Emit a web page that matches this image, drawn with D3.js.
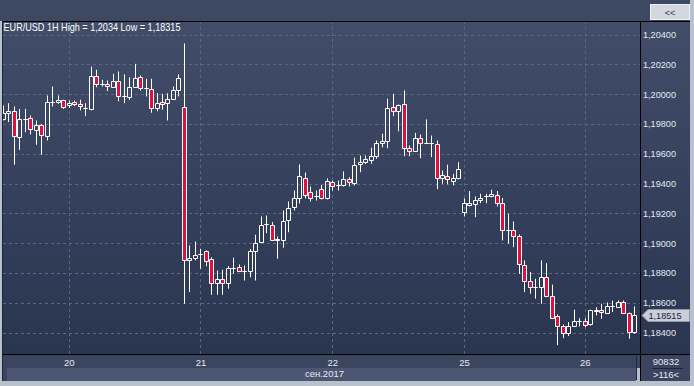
<!DOCTYPE html>
<html>
<head>
<meta charset="utf-8">
<script src="https://cdn.jsdelivr.net/npm/d3@7"></script>
<style>
  body { margin: 0; background: #b9c1cd; }
  svg { display: block; }
  text { font-family: "Liberation Sans", Arial, sans-serif; }
</style>
</head>
<body>
<div id="chart"></div>
<script>
// EUR/USD hourly candles, 19.09 12:00 .. 26.09
const opens = [1.19834,1.19875,1.19885,1.19711,1.19834,1.19841,1.19761,1.19794,1.19718,1.19948,
  1.19948,1.19962,1.19924,1.19946,1.19935,1.19908,1.19901,1.20123,1.20065,1.20069,
  1.20046,1.20087,1.19984,1.19979,1.20046,1.20113,1.20042,1.20036,1.19908,1.19946,
  1.19942,1.19969,1.20029,1.19912,1.18888,1.18902,1.18926,1.18944,1.18890,1.18734,
  1.18761,1.18734,1.18832,1.18841,1.18816,1.18810,1.18949,1.19006,1.19125,1.19123,
  1.19018,1.19018,1.19152,1.19239,1.19306,1.19434,1.19340,1.19313,1.19360,1.19306,
  1.19409,1.19391,1.19391,1.19429,1.19402,1.19532,1.19546,1.19559,1.19583,1.19673,
  1.19687,1.19912,1.19885,1.19935,1.19637,1.19620,1.19707,1.19673,1.19673,1.19667,
  1.19438,1.19452,1.19418,1.19436,1.19212,1.19253,1.19264,1.19291,1.19315,1.19318,
  1.19326,1.19271,1.19090,1.19090,1.19045,1.18855,1.18747,1.18704,1.18704,1.18774,
  1.18647,1.18508,1.18441,1.18398,1.18443,1.18476,1.18476,1.18456,1.18543,1.18553,
  1.18530,1.18580,1.18570,1.18606,1.18533,1.18402];
const highs = [1.19924,1.19939,1.19917,1.19901,1.19901,1.19857,1.19823,1.19800,1.19991,1.20051,
  1.19991,1.19962,1.19957,1.19957,1.19962,1.19939,1.20185,1.20163,1.20096,1.20091,
  1.20136,1.20152,1.20132,1.20113,1.20203,1.20125,1.20103,1.20103,1.20006,1.20002,
  1.20006,1.20051,1.20132,1.20340,1.18984,1.19011,1.18962,1.18951,1.18904,1.18816,
  1.18821,1.18845,1.18902,1.18857,1.18850,1.18960,1.19056,1.19179,1.19185,1.19141,
  1.19045,1.19219,1.19279,1.19353,1.19528,1.19474,1.19380,1.19353,1.19390,1.19434,
  1.19420,1.19420,1.19481,1.19442,1.19573,1.19588,1.19588,1.19640,1.19689,1.19734,
  1.19969,1.20002,1.19930,1.20024,1.19655,1.19740,1.19729,1.19830,1.19722,1.19689,
  1.19487,1.19526,1.19465,1.19543,1.19300,1.19349,1.19313,1.19331,1.19331,1.19358,
  1.19349,1.19304,1.19197,1.19145,1.19058,1.18884,1.18805,1.18761,1.18884,1.18865,
  1.18721,1.18521,1.18454,1.18470,1.18553,1.18496,1.18496,1.18553,1.18570,1.18593,
  1.18602,1.18615,1.18615,1.18615,1.18535,1.18575];
const lows = [1.19823,1.19812,1.19526,1.19626,1.19744,1.19729,1.19660,1.19593,1.19689,1.19917,
  1.19935,1.19901,1.19908,1.19919,1.19890,1.19852,1.19890,1.20046,1.20051,1.20020,
  1.20046,1.19952,1.19939,1.19962,1.20046,1.20024,1.19984,1.19875,1.19885,1.19895,
  1.19823,1.19962,1.19985,1.18593,1.18671,1.18884,1.18828,1.18845,1.18653,1.18653,
  1.18653,1.18694,1.18794,1.18812,1.18749,1.18771,1.18749,1.19000,1.19067,1.19018,
  1.18895,1.18969,1.19073,1.19219,1.19266,1.19300,1.19279,1.19286,1.19293,1.19293,
  1.19353,1.19353,1.19380,1.19380,1.19387,1.19476,1.19532,1.19532,1.19566,1.19642,
  1.19637,1.19852,1.19751,1.19583,1.19583,1.19617,1.19570,1.19671,1.19577,1.19362,
  1.19398,1.19394,1.19387,1.19427,1.19179,1.19246,1.19174,1.19268,1.19268,1.19308,
  1.19246,1.19018,1.18996,1.18973,1.18794,1.18671,1.18660,1.18627,1.18593,1.18637,
  1.18490,1.18315,1.18362,1.18376,1.18441,1.18441,1.18436,1.18446,1.18515,1.18492,
  1.18526,1.18537,1.18570,1.18530,1.18358,1.18392];
const closes = [1.19875,1.19885,1.19718,1.19834,1.19834,1.19767,1.19794,1.19727,1.19948,1.19948,
  1.19962,1.19912,1.19942,1.19935,1.19917,1.19908,1.20123,1.20065,1.20065,1.20056,
  1.20087,1.19984,1.19984,1.20046,1.20109,1.20042,1.20042,1.19908,1.19939,1.19935,
  1.19969,1.20029,1.20109,1.18888,1.18902,1.18922,1.18926,1.18882,1.18734,1.18761,
  1.18734,1.18832,1.18832,1.18814,1.18816,1.18949,1.19004,1.19123,1.19125,1.19022,
  1.19026,1.19150,1.19237,1.19306,1.19447,1.19320,1.19300,1.19313,1.19306,1.19414,
  1.19385,1.19391,1.19429,1.19407,1.19526,1.19543,1.19563,1.19583,1.19673,1.19687,
  1.19908,1.19885,1.19930,1.19637,1.19620,1.19707,1.19673,1.19673,1.19673,1.19436,
  1.19459,1.19427,1.19434,1.19499,1.19266,1.19268,1.19291,1.19304,1.19315,1.19331,
  1.19271,1.19090,1.19090,1.19049,1.18861,1.18747,1.18704,1.18704,1.18774,1.18642,
  1.18499,1.18443,1.18398,1.18445,1.18476,1.18476,1.18452,1.18548,1.18553,1.18539,
  1.18580,1.18580,1.18606,1.18533,1.18402,1.18515];

const priceTicks = [1.184,1.186,1.188,1.190,1.192,1.194,1.196,1.198,1.200,1.202,1.204];
const dayLabels = ["20","21","22","25","26"];
const dayIndex = [12,36,60,84,106];
const monthLabel = "сен.2017";
const title = "EUR/USD 1H High = 1,2034 Low = 1,18315";
const lastPrice = 1.18515;

const width = 694, height = 386;
const plotL = 3, plotR = 640, plotT = 21, plotB = 354;

const svg = d3.select('#chart').append('svg')
  .attr('width', width).attr('height', height);

const defs = svg.append('defs');
const grad = defs.append('linearGradient').attr('id', 'bg')
  .attr('x1', 0).attr('y1', 0).attr('x2', 0).attr('y2', 1);
grad.append('stop').attr('offset', '0%').attr('stop-color', '#414d69');
grad.append('stop').attr('offset', '100%').attr('stop-color', '#2a3550');
defs.append('clipPath').attr('id', 'clip').append('rect')
  .attr('x', plotL).attr('y', plotT).attr('width', plotR - plotL).attr('height', plotB - plotT);

// frame + backgrounds
svg.append('rect').attr('width', width).attr('height', height).attr('fill', '#b9c1cd');
svg.append('rect').attr('x', 0).attr('y', 0).attr('width', 690).attr('height', plotT).attr('fill', '#3d4862');
svg.append('rect').attr('x', 2).attr('y', plotT).attr('width', 688).attr('height', plotB - plotT)
  .attr('fill', 'url(#bg)');
svg.append('rect').attr('x', 2).attr('y', plotB).attr('width', 688).attr('height', 14).attr('fill', '#3a4560');
svg.append('rect').attr('x', 7).attr('y', plotB + 14).attr('width', 629).attr('height', 13).attr('fill', '#4b5772');
svg.append('rect').attr('x', 2).attr('y', plotB + 14).attr('width', 5).attr('height', 13).attr('fill', '#3a4560');
svg.append('rect').attr('x', plotR).attr('y', plotB + 14).attr('width', 50).attr('height', 13).attr('fill', '#3a4560');

// "<<" button
svg.append('rect').attr('x', 650.5).attr('y', 4.5).attr('width', 39).attr('height', 15)
  .attr('fill', '#d3d7df').attr('stroke', '#eef0f4');
svg.append('text').attr('x', 670).attr('y', 15.5).attr('text-anchor', 'middle')
  .attr('fill', '#2a3552').style('font-size', '9px').text('<<');

const x = d3.scaleLinear().domain([0, opens.length - 1]).range([2.8, 2.8 + 5.49 * (opens.length - 1)]);
const y = d3.scaleLinear().domain([1.184, 1.204]).range([332.5, 34.5]);
const fmt = v => d3.format('.5f')(v).replace('.', ',');

// grid
const grid = svg.append('g');
grid.selectAll('.hg').data(priceTicks).enter().append('line')
  .attr('x1', plotL).attr('x2', plotR)
  .attr('y1', d => Math.round(y(d)) + 0.5).attr('y2', d => Math.round(y(d)) + 0.5)
  .attr('stroke', '#5b6884').attr('stroke-dasharray', '3,3');
grid.selectAll('.vg').data(dayIndex).enter().append('line')
  .attr('x1', d => Math.round(x(d)) + 0.5).attr('x2', d => Math.round(x(d)) + 0.5)
  .attr('y1', plotT).attr('y2', plotB)
  .attr('stroke', '#5b6884').attr('stroke-dasharray', '3,3');

// candles
const candles = d3.range(opens.length).map(i => ({ i, o: opens[i], h: highs[i], l: lows[i], c: closes[i] }));
const cg = svg.append('g').attr('clip-path', 'url(#clip)');
const cx = d => Math.round(x(d.i)) + 0.5;
const bodyTop = d => Math.round(y(Math.max(d.o, d.c))) + 0.5;
const bodyBot = d => Math.round(y(Math.min(d.o, d.c))) + 0.5;

cg.selectAll('.wickHi').data(candles).enter().append('line')
  .attr('x1', cx).attr('x2', cx)
  .attr('y1', d => y(d.h)).attr('y2', bodyTop)
  .attr('stroke', '#ffffff');
cg.selectAll('.wickLo').data(candles).enter().append('line')
  .attr('x1', cx).attr('x2', cx)
  .attr('y1', bodyBot).attr('y2', d => y(d.l))
  .attr('stroke', '#ffffff');
cg.selectAll('.body').data(candles).enter().append('path')
  .attr('d', d => `M${cx(d) - 2},${bodyTop(d)}H${cx(d) + 2}V${bodyBot(d)}H${cx(d) - 2}Z`)
  .attr('fill', d => d.c < d.o ? '#e0103c' : 'none')
  .attr('stroke', '#ffffff');

// plot borders
svg.append('line').attr('x1', plotL).attr('x2', 690).attr('y1', plotT + 0.5).attr('y2', plotT + 0.5).attr('stroke', '#000');
svg.append('line').attr('x1', plotL).attr('x2', 690).attr('y1', plotB + 0.5).attr('y2', plotB + 0.5).attr('stroke', '#000');
svg.append('line').attr('x1', plotR + 0.5).attr('x2', plotR + 0.5).attr('y1', plotT).attr('y2', 381).attr('stroke', '#000');
svg.append('line').attr('x1', 2.5).attr('x2', 2.5).attr('y1', plotT).attr('y2', 381).attr('stroke', '#1c2435');
svg.append('line').attr('x1', 636.5).attr('x2', 636.5).attr('y1', plotB + 2).attr('y2', 380).attr('stroke', '#222b3d');

// title (narrow UI font look)
svg.append('text').attr('x', 3.5).attr('y', 31).attr('fill', '#ffffff')
  .attr('textLength', 177).attr('lengthAdjust', 'spacingAndGlyphs')
  .style('font-size', '10.2px').text(title);

// right price axis
const yAxis = svg.append('g').attr('transform', `translate(${plotR},0)`)
  .call(d3.axisRight(y).tickValues(priceTicks).tickSize(0).tickPadding(3).tickFormat(fmt));
yAxis.select('.domain').remove();
yAxis.selectAll('text').attr('fill', '#e4e9f2').style('font-size', '9.5px')
  .attr('textLength', 33).attr('lengthAdjust', 'spacingAndGlyphs')
  .style('font-family', '"Liberation Sans", Arial, sans-serif');

// bottom day axis
const xAxis = svg.append('g').attr('transform', `translate(0,${plotB})`)
  .call(d3.axisBottom(x).tickValues(dayIndex).tickSize(0).tickPadding(5)
    .tickFormat((d, i) => dayLabels[i]));
xAxis.select('.domain').remove();
xAxis.selectAll('text').attr('fill', '#e4e9f2').style('font-size', '9.5px')
  .style('font-family', '"Liberation Sans", Arial, sans-serif');

svg.append('text').attr('x', 344).attr('y', 377).attr('text-anchor', 'end')
  .attr('fill', '#e4e9f2').style('font-size', '9.5px').text(monthLabel);

// current price tag
const py = Math.round(y(lastPrice)) + 0.5;
svg.append('path')
  .attr('d', `M642,${py}L648,${py - 6}H689.5V${py + 6}H648Z`)
  .attr('fill', '#c9ced7').attr('stroke', '#8e97a8');
svg.append('text').attr('x', 648.5).attr('y', py + 3.5).attr('fill', '#1c2540')
  .attr('textLength', 33).attr('lengthAdjust', 'spacingAndGlyphs')
  .style('font-size', '9.5px').text(fmt(lastPrice));

// bottom-right counters
svg.append('text').attr('x', 666).attr('y', 365).attr('text-anchor', 'middle')
  .attr('fill', '#e4e9f2').style('font-size', '9.5px').text('90832');
svg.append('line').attr('x1', 652).attr('x2', 683).attr('y1', 368.5).attr('y2', 368.5).attr('stroke', '#1c2435');
svg.append('text').attr('x', 666).attr('y', 378).attr('text-anchor', 'middle')
  .attr('fill', '#e4e9f2').style('font-size', '9.5px').text('>' + opens.length + '<');
</script>
</body>
</html>
